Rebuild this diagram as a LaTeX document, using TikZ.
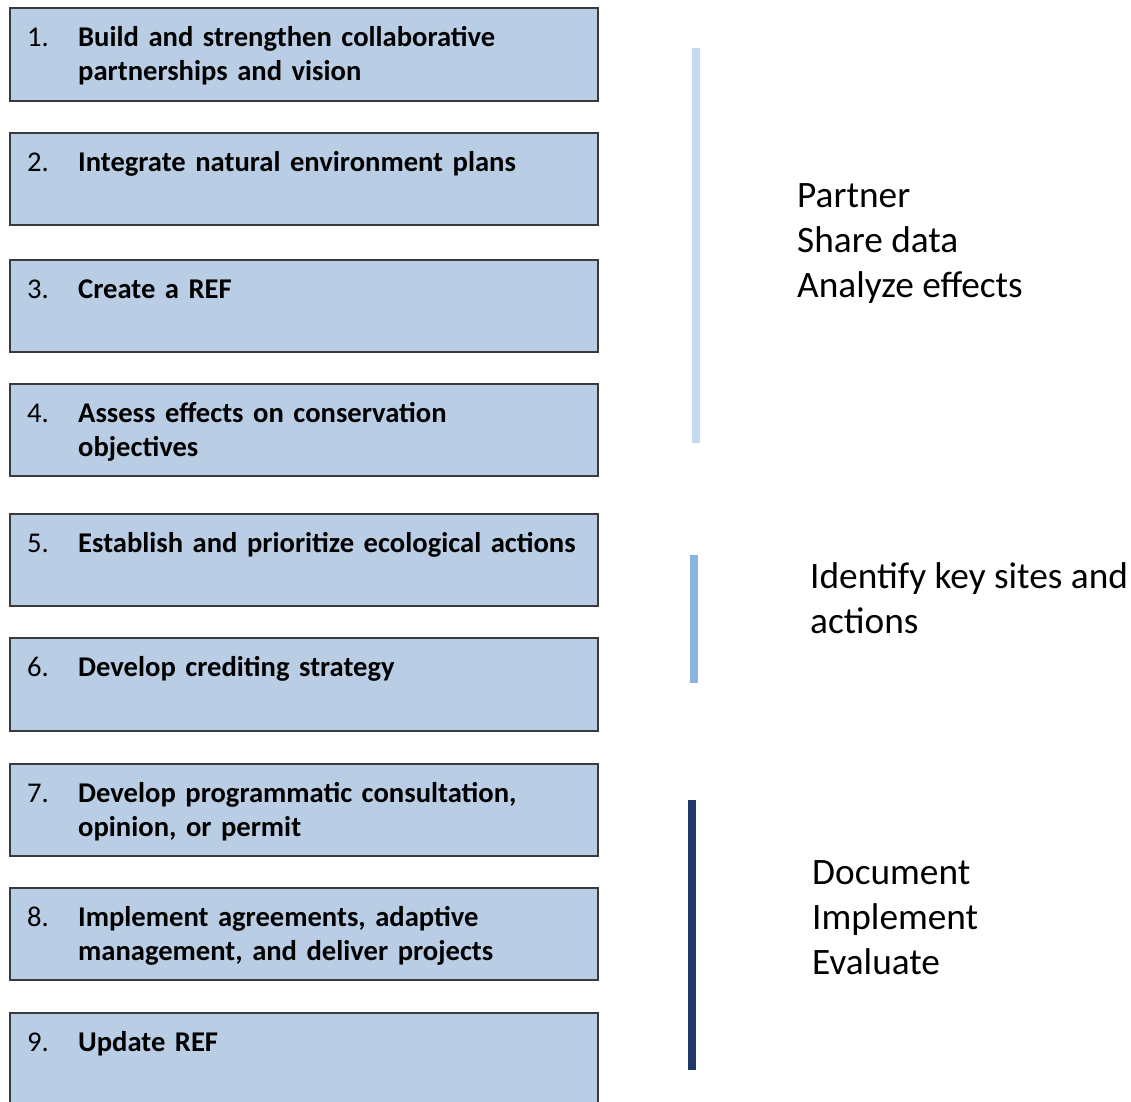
\documentclass[tikz,border=0pt]{standalone}
\usepackage{fontspec}
\setmainfont{Carlito}
\definecolor{boxfill}{HTML}{B9CDE5}
\definecolor{boxline}{HTML}{3A3A3A}
\definecolor{barone}{HTML}{C6D9F1}
\definecolor{bartwo}{HTML}{8DB3E2}
\definecolor{barthree}{HTML}{1F3864}
\begin{document}
\begin{tikzpicture}[x=1pt,y=-1pt,
  stepbox/.style={draw=boxline, line width=1.5pt, fill=boxfill, anchor=north west,
    minimum width=588pt, inner sep=0pt, outer sep=0pt},
  numtext/.style={anchor=north west, inner sep=0pt, font=\fontsize{28.6}{34}\selectfont},
  steptext/.style={anchor=north west, inner sep=0pt, align=left, text width=520pt,
    font=\bfseries\fontsize{28.6}{34}\selectfont},
  sidetext/.style={anchor=north west, inner sep=0pt, align=left,
    font=\fontsize{37.3}{45}\selectfont}]
\useasboundingbox (0,0) rectangle (1131,1101);
% boxes
\node[stepbox, minimum height=93pt] (b1) at (10,8) {};
\node[stepbox, minimum height=92pt] (b2) at (10,133) {};
\node[stepbox, minimum height=92pt] (b3) at (10,260) {};
\node[stepbox, minimum height=92pt] (b4) at (10,384) {};
\node[stepbox, minimum height=92pt] (b5) at (10,514) {};
\node[stepbox, minimum height=93pt] (b6) at (10,638) {};
\node[stepbox, minimum height=92pt] (b7) at (10,764) {};
\node[stepbox, minimum height=92pt] (b8) at (10,888) {};
\node[stepbox, minimum height=100pt] (b9) at (10,1013) {};
% numbers and texts
\foreach \i/\t in {1/{Build and strengthen collaborative\\partnerships and vision},
  2/{Integrate natural environment plans},
  3/{Create a REF},
  4/{Assess effects on conservation\\objectives},
  5/{Establish and prioritize ecological actions},
  6/{Develop crediting strategy},
  7/{Develop programmatic consultation,\\opinion, or permit},
  8/{Implement agreements, adaptive\\management, and deliver projects},
  9/{Update REF}}{
  \node[numtext] (n\i) at ([xshift=17pt,yshift=-14pt]b\i.north west) {\strut\i.};
  \node[steptext] (t\i) at ([xshift=68pt,yshift=-14pt]b\i.north west) {\strut\t};
}
% bars
\fill[barone] (692,48) rectangle (700,443);
\fill[bartwo] (690,555) rectangle (698,683);
\fill[barthree] (688,800) rectangle (696,1070);
% side texts
\node[sidetext] (s1) at (797,176) {\strut Partner\\Share data\\Analyze effects};
\node[sidetext] (s2) at (810,557) {\strut Identify key sites and\\actions};
\node[sidetext] (s3) at (812,853) {\strut Document\\Implement\\Evaluate};
\end{tikzpicture}
\end{document}
